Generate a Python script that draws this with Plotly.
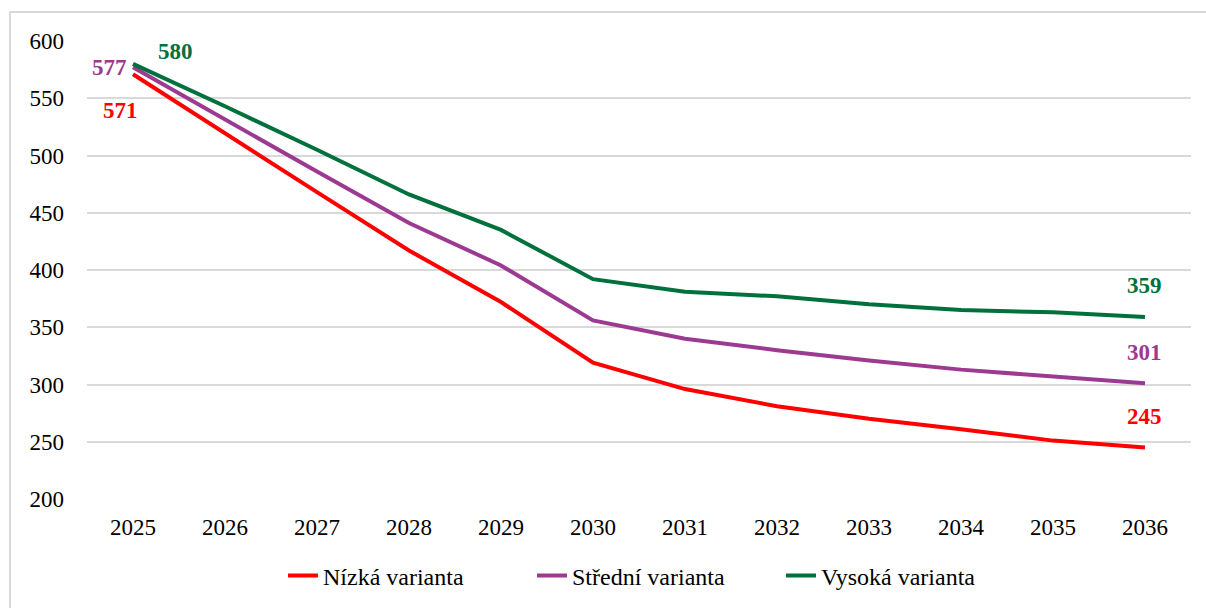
import plotly.graph_objects as go

years = [str(y) for y in range(2025, 2037)]
nizka = [571, 519, 468, 417, 372, 319, 296, 281, 270, 261, 251, 245]
stredni = [577, 531, 486, 441, 404, 356, 340, 330, 321, 313, 307, 301]
vysoka = [580, 543, 505, 466, 435, 392, 381, 377, 370, 365, 363, 359]

names = ["Nízká varianta", "Střední varianta", "Vysoká varianta"]
colors = ["#FF0000", "#9C3A92", "#00703C"]
series = [nizka, stredni, vysoka]

FONT = "'Liberation Serif', 'DejaVu Serif', serif"
W, H = 1206, 608
L, R, T, B = 87, 15, 41, 109

fig = go.Figure()
for name, vals, col in zip(names, series, colors):
    fig.add_trace(go.Scatter(
        x=years, y=vals, name=name, mode="lines",
        line=dict(color=col, width=4),
        hoverinfo="skip",
    ))

# value labels at first / last year: (series index, point index, xshift, yshift)
label_pos = [
    (2, 0, 42, 12),
    (1, 0, -24, 0),
    (0, 0, -13, -36),
    (2, -1, -1, 31),
    (1, -1, -1, 31),
    (0, -1, -1, 31),
]
for si, pi, dx, dy in label_pos:
    vals = series[si]
    fig.add_annotation(
        x=pi % len(years), y=vals[pi], xref="x", yref="y",
        text="<b>%d</b>" % vals[pi], showarrow=False,
        xshift=dx, yshift=dy,
        font=dict(family=FONT, size=23, color=colors[si]),
    )

pw, ph = W - L - R, H - T - B
fig.add_shape(
    type="rect", xref="paper", yref="paper",
    x0=(10 - L) / pw, x1=(W + 5 - L) / pw,
    y0=-(H + 5 - T - ph) / ph, y1=(H - B - 12) / ph,
    line=dict(color="#D9D9D9", width=2),
    layer="below",
)

fig.update_layout(
    width=W, height=H,
    margin=dict(l=L, r=R, t=T, b=B, autoexpand=False),
    plot_bgcolor="white", paper_bgcolor="white",
    font=dict(family=FONT, size=23, color="#000000"),
    showlegend=True,
    legend=dict(
        orientation="h", x=(283 - L) / pw, xanchor="left",
        y=-(576 - T - ph) / ph, yanchor="middle",
        font=dict(family=FONT, size=24), itemwidth=30,
        entrywidth=204, entrywidthmode="pixels",
    ),
)
fig.update_xaxes(
    type="category", range=[-0.5, 11.5],
    showgrid=False, showline=False, zeroline=False,
    ticks="", ticklabelstandoff=12, automargin=False,
)
fig.update_yaxes(
    range=[200, 600], dtick=50, tick0=200,
    showgrid=True, gridcolor="#D9D9D9", gridwidth=2,
    showline=False, zeroline=False,
    ticks="", ticklabelstandoff=22, automargin=False,
)

fig.write_html("out.html", config={"displayModeBar": False},
               post_script="document.body.style.margin='0';")
